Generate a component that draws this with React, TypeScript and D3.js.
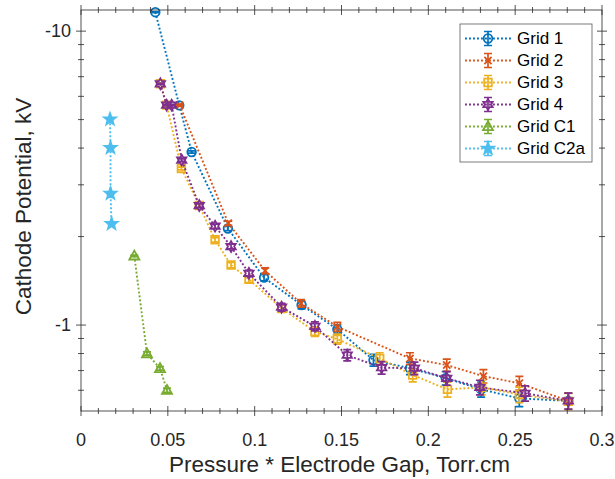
import React from 'react';
import * as d3 from 'd3';

const W = 615;
const H = 479;
const plot = { left: 81, right: 602, top: 10, bottom: 411 };

// Pressure * gap (Torr.cm) and cathode potential (kV) per grid
const grid1P = [0.0428, 0.0566, 0.0637, 0.0846, 0.1054, 0.127, 0.1476, 0.1684, 0.1894, 0.21, 0.2304, 0.2524, 0.2806];
const grid1V = [-11.6, -5.59, -3.88, -2.13, -1.45, -1.17, -0.967, -0.76, -0.713, -0.66, -0.604, -0.563, -0.552];

const grid2P = [0.0568, 0.0848, 0.106, 0.1267, 0.1476, 0.1894, 0.2106, 0.2317, 0.2524, 0.2806];
const grid2V = [-5.6, -2.22, -1.53, -1.185, -0.987, -0.77, -0.731, -0.67, -0.634, -0.552];

const grid3P = [0.0457, 0.0493, 0.0578, 0.0681, 0.0772, 0.0864, 0.0967, 0.1155, 0.1347, 0.1476, 0.172, 0.191, 0.211, 0.2307, 0.2524, 0.2806];
const grid3V = [-6.62, -5.6, -3.41, -2.55, -1.95, -1.6, -1.43, -1.14, -0.95, -0.896, -0.77, -0.676, -0.604, -0.614, -0.58, -0.55];

const grid4P = [0.0457, 0.0493, 0.0522, 0.058, 0.0681, 0.0772, 0.0864, 0.0967, 0.1155, 0.1347, 0.1533, 0.1731, 0.192, 0.2106, 0.2297, 0.2557, 0.2806];
const grid4V = [-6.62, -5.6, -5.6, -3.64, -2.55, -2.17, -1.85, -1.5, -1.15, -0.99, -0.79, -0.716, -0.713, -0.659, -0.614, -0.586, -0.552];

const gridC1P = [0.0307, 0.038, 0.0455, 0.0495];
const gridC1V = [-1.72, -0.8, -0.712, -0.6];

const gridC2aP = [0.0167, 0.017, 0.017, 0.0176];
const gridC2aV = [-5.01, -4.01, -2.8, -2.21];

// symmetric measurement uncertainty (kV) per series
const seriesErr = [0.035, 0.035, 0.035, 0.035, 0.01, 0.01];
const seriesNames = ['Grid 1', 'Grid 2', 'Grid 3', 'Grid 4', 'Grid C1', 'Grid C2a'];
const seriesColors = ['#0072BD', '#D95319', '#EDB120', '#7E2F8E', '#77AC30', '#4DBEEE'];
const seriesMarkers = ['circle', 'x', 'square', 'hexagram', 'triangle', 'pentagram'];

const xTicks = [0, 0.05, 0.1, 0.15, 0.2, 0.25, 0.3];
const xTickLabels = ['0', '0.05', '0.1', '0.15', '0.2', '0.25', '0.3'];
const yTicks = [-10, -1];
const yTickLabels = ['-10', '-1'];
const yMinor = [-9, -8, -7, -6, -5, -4, -3, -2, -0.9, -0.8, -0.7, -0.6];

const FONT = '"Liberation Sans", Arial, Helvetica, sans-serif';
const AX = '#262626';

const series = [
  { p: grid1P, v: grid1V },
  { p: grid2P, v: grid2V },
  { p: grid3P, v: grid3V },
  { p: grid4P, v: grid4V },
  { p: gridC1P, v: gridC1V },
  { p: gridC2aP, v: gridC2aV },
];

function starPath(points: number, rOuter: number, rInner: number, rot = -Math.PI / 2) {
  const pts: string[] = [];
  for (let i = 0; i < points * 2; i++) {
    const r = i % 2 === 0 ? rOuter : rInner;
    const a = rot + (i * Math.PI) / points;
    pts.push(`${(r * Math.cos(a)).toFixed(2)},${(r * Math.sin(a)).toFixed(2)}`);
  }
  return 'M' + pts.join('L') + 'Z';
}

function markerPath(kind: string) {
  switch (kind) {
    case 'circle':
      return 'M4.3,0A4.3,4.3 0 1,1 -4.3,0A4.3,4.3 0 1,1 4.3,0Z';
    case 'x':
      return 'M-3.6,-3.6L3.6,3.6M-3.6,3.6L3.6,-3.6';
    case 'square':
      return 'M-3.8,-3.8H3.8V3.8H-3.8Z';
    case 'hexagram':
      return starPath(6, 5.4, 3.1);
    case 'triangle':
      return 'M0,-5.2L5,3.7L-5,3.7Z';
    case 'pentagram':
      return starPath(5, 6.2, 2.5);
    default:
      return '';
  }
}

function Marker({ kind, color }: { kind: string; color: string }) {
  const filled = kind === 'pentagram';
  return (
    <path
      d={markerPath(kind)}
      fill={filled ? color : 'none'}
      stroke={color}
      strokeWidth={1.8}
      strokeLinejoin="miter"
    />
  );
}

export default function App() {
  const x = d3.scaleLinear().domain([0, 0.3]).range([plot.left, plot.right]);
  const y = d3.scaleLog().domain([-0.51, -11.8]).range([plot.bottom, plot.top]);

  const line = d3
    .line<[number, number]>()
    .x((d) => x(d[0]))
    .y((d) => y(d[1]));

  const xMinor = d3.range(0, 0.3001, 0.01).filter((t) => Math.abs(t / 0.05 - Math.round(t / 0.05)) > 1e-6);

  const cap = 4;
  const legendX = 460;
  const legendY = 24;
  const legendW = 132;
  const legendH = 138;

  return (
    <svg width={W} height={H} style={{ position: 'absolute', left: 0, top: 0 }} fontFamily={FONT}>
      <rect x={0} y={0} width={W} height={H} fill="#fff" />

      <defs>
        <clipPath id="plotClip">
          <rect x={plot.left - 6} y={plot.top - 6} width={plot.right - plot.left + 12} height={plot.bottom - plot.top + 12} />
        </clipPath>
      </defs>

      {/* data series */}
      <g clipPath="url(#plotClip)">
        {series.map((s, i) => {
          const pts = s.p.map((p, j) => [p, s.v[j]] as [number, number]);
          const color = seriesColors[i];
          const err = seriesErr[i];
          return (
            <g key={seriesNames[i]}>
              <path d={line(pts) || ''} fill="none" stroke={color} strokeWidth={1.9} strokeDasharray="1.9 2.1" />
              {pts.map(([p, v], j) => {
                const cx = x(p);
                const y1 = y(v - err);
                const y2 = y(v + err);
                return (
                  <g key={j}>
                    <path
                      d={`M${cx},${y1}V${y2}M${cx - cap},${y1}H${cx + cap}M${cx - cap},${y2}H${cx + cap}`}
                      stroke={color}
                      strokeWidth={1.7}
                      fill="none"
                    />
                    <g transform={`translate(${cx},${y(v)})`}>
                      <Marker kind={seriesMarkers[i]} color={color} />
                    </g>
                  </g>
                );
              })}
            </g>
          );
        })}
      </g>

      {/* axes box */}
      <rect
        x={plot.left}
        y={plot.top}
        width={plot.right - plot.left}
        height={plot.bottom - plot.top}
        fill="none"
        stroke={AX}
        strokeWidth={0.8}
      />

      {/* x ticks, top and bottom */}
      {xTicks.map((t) => (
        <g key={'xt' + t}>
          <line x1={x(t)} x2={x(t)} y1={plot.bottom - 5} y2={plot.bottom + 5} stroke={AX} strokeWidth={0.8} />
          <line x1={x(t)} x2={x(t)} y1={plot.top - 5} y2={plot.top + 5} stroke={AX} strokeWidth={0.8} />
        </g>
      ))}
      {xMinor.map((t) => (
        <g key={'xm' + t}>
          <line x1={x(t)} x2={x(t)} y1={plot.bottom - 3} y2={plot.bottom + 3} stroke={AX} strokeWidth={0.8} />
          <line x1={x(t)} x2={x(t)} y1={plot.top - 3} y2={plot.top + 3} stroke={AX} strokeWidth={0.8} />
        </g>
      ))}
      {xTicks.map((t, i) => (
        <text key={'xl' + t} x={x(t)} y={446} textAnchor="middle" fontSize={18} fill={AX}>
          {xTickLabels[i]}
        </text>
      ))}

      {/* y ticks, left and right */}
      {yTicks.map((t) => (
        <g key={'yt' + t}>
          <line x1={plot.left - 5} x2={plot.left + 5} y1={y(t)} y2={y(t)} stroke={AX} strokeWidth={0.8} />
          <line x1={plot.right - 5} x2={plot.right + 5} y1={y(t)} y2={y(t)} stroke={AX} strokeWidth={0.8} />
        </g>
      ))}
      {yMinor.map((t) => (
        <g key={'ym' + t}>
          <line x1={plot.left - 3} x2={plot.left + 3} y1={y(t)} y2={y(t)} stroke={AX} strokeWidth={0.8} />
          <line x1={plot.right - 3} x2={plot.right + 3} y1={y(t)} y2={y(t)} stroke={AX} strokeWidth={0.8} />
        </g>
      ))}
      {yTicks.map((t, i) => (
        <text key={'yl' + t} x={71} y={y(t)} dy="0.35em" textAnchor="end" fontSize={18} fill={AX}>
          {yTickLabels[i]}
        </text>
      ))}

      {/* axis titles */}
      <text x={(plot.left + plot.right) / 2 - 2} y={472} textAnchor="middle" fontSize={22.5} fill={AX}>
        Pressure * Electrode Gap, Torr.cm
      </text>
      <text
        transform={`translate(31,${(plot.top + plot.bottom) / 2 - 4}) rotate(-90)`}
        textAnchor="middle"
        fontSize={22.5}
        fill={AX}
      >
        Cathode Potential, kV
      </text>

      {/* legend */}
      <rect x={legendX} y={legendY} width={legendW} height={legendH} fill="#fff" stroke="#5a5a5a" strokeWidth={0.8} />
      {seriesNames.map((name, i) => {
        const ry = 38.5 + i * 22;
        const color = seriesColors[i];
        return (
          <g key={'lg' + name}>
            <line x1={465} x2={512} y1={ry} y2={ry} stroke={color} strokeWidth={1.9} strokeDasharray="1.9 2.1" />
            <path
              d={`M488,${ry - 7}V${ry + 7}M${488 - cap},${ry - 7}H${488 + cap}M${488 - cap},${ry + 7}H${488 + cap}`}
              stroke={color}
              strokeWidth={1.7}
              fill="none"
            />
            <g transform={`translate(488,${ry})`}>
              <Marker kind={seriesMarkers[i]} color={color} />
            </g>
            <text x={517} y={ry} dy="0.35em" fontSize={17} fill="#000">
              {name}
            </text>
          </g>
        );
      })}
    </svg>
  );
}
